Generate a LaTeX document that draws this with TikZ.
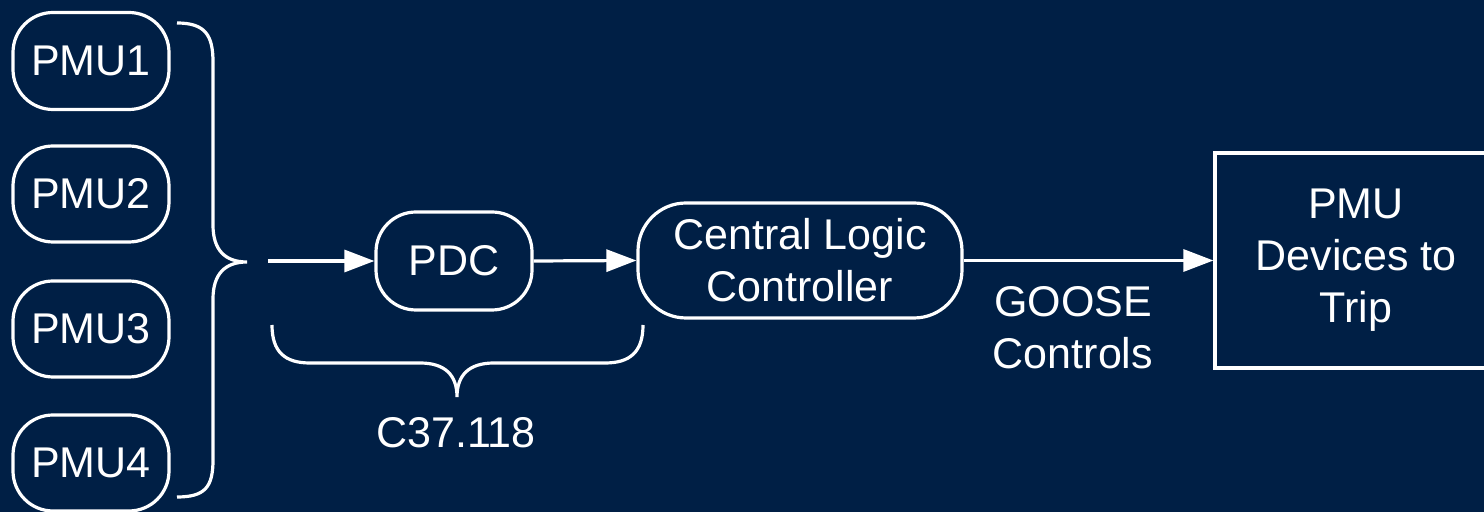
\documentclass[tikz,border=0pt]{standalone}
\usepackage{fontspec}
\setmainfont{Liberation Sans}
\usetikzlibrary{arrows.meta}
\definecolor{bg}{HTML}{001F45}
\begin{document}
\begin{tikzpicture}[x=0.5pt,y=-0.5pt,
  every node/.style={text=white,font=\fontsize{21.5}{26}\selectfont,align=center,inner sep=0pt},
  pill/.style={draw=white,line width=1.6pt,rounded corners=20pt},
  line/.style={draw=white,line width=1.6pt},
  arr/.style={line,-{Triangle[length=15pt,width=11pt]}}]
\fill[bg] (0,0) rectangle (1484,512);
\useasboundingbox (0,0) rectangle (1484,512);
\clip (0,0) rectangle (1484,512);
\node[pill,minimum width=78pt,minimum height=48.5pt] (p1) at (91,61) {PMU1};
\node[pill,minimum width=78pt,minimum height=48pt] (p2) at (91,194) {PMU2};
\node[pill,minimum width=78pt,minimum height=48pt] (p3) at (91,329) {PMU3};
\node[pill,minimum width=78pt,minimum height=48pt] (p4) at (91,463) {PMU4};
\node[pill,minimum width=78pt,minimum height=49pt] (pdc) at (454,261) {PDC};
\node[pill,rounded corners=24pt,minimum width=162pt,minimum height=57.5pt] (clc) at (800,260.5) {Central Logic\\Controller};
\node[line,minimum width=141pt,minimum height=107.5pt] (trip) at (1356,260.5) {PMU\\Devices to\\Trip};
\coordinate (in) at (268,261);
\draw[arr] (in) -- (pdc.west);
\draw[arr] (pdc.east) -- (clc.west);
\draw[arr] (clc.east) -- (clc.east -| trip.west);
\node (goose) at (1073,328) {GOOSE\\Controls};
\node (c37) at (456,433) {C37.118};
\draw[line] (177,23) .. controls (205,23) and (213,35) .. (213,62) -- (213,225)
  .. controls (213,250) and (225,262) .. (247,262)
  .. controls (225,262) and (213,274) .. (213,299) -- (213,460)
  .. controls (213,487) and (205,497) .. (177,497);
\draw[line] (272,325) .. controls (272,352) and (285,363) .. (310,363) -- (420,363)
  .. controls (445,363) and (457,375) .. (457,397)
  .. controls (457,375) and (469,363) .. (494,363) -- (605,363)
  .. controls (630,363) and (643,352) .. (643,325);
\end{tikzpicture}
\end{document}
